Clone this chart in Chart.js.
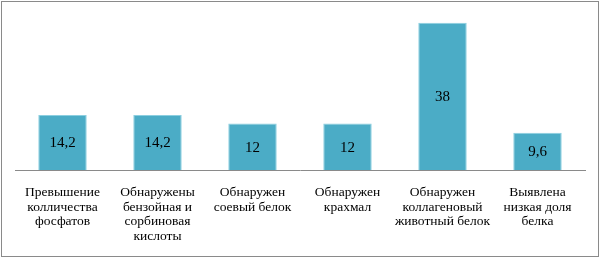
<!DOCTYPE html>
<html>
<head>
<meta charset="utf-8">
<script src="https://cdn.jsdelivr.net/npm/chart.js@4"></script>
<style>
  body { margin: 0; background: #fff; font-family: 'Liberation Serif'; }
  #wrap { width: 600px; height: 259px; position: relative; }
</style>
</head>
<body>
<div id="wrap"><canvas id="myChart"></canvas></div>
<script>
// data block
const categories = [
    ['Превышение', 'колличества', 'фосфатов'],
    ['Обнаружены', 'бензойная и', 'сорбиновая', 'кислоты'],
    ['Обнаружен', 'соевый белок'],
    ['Обнаружен', 'крахмал'],
    ['Обнаружен', 'коллагеновый', 'животный белок'],
    ['Выявлена', 'низкая доля', 'белка']
];
const values = [14.2, 14.2, 12, 12, 38, 9.6];
const valueLabels = ['14,2', '14,2', '12', '12', '38', '9,6'];

const serif = "'Liberation Serif', 'Times New Roman', serif";

// white background + outer frame
const frame = {
    id: 'frame',
    beforeDraw(chart) {
        const ctx = chart.ctx;
        ctx.save();
        ctx.fillStyle = '#fff';
        ctx.fillRect(0, 0, chart.width, chart.height);
        ctx.strokeStyle = '#8a8a8a';
        ctx.lineWidth = 1;
        ctx.strokeRect(1.5, 1.5, 597, 255);
        ctx.restore();
    }
};

// value labels in the middle of each bar
const barValues = {
    id: 'barValues',
    afterDatasetsDraw(chart) {
        const ctx = chart.ctx;
        const meta = chart.getDatasetMeta(0);
        ctx.save();
        ctx.font = '15px ' + serif;
        ctx.fillStyle = '#000';
        ctx.textAlign = 'center';
        ctx.textBaseline = 'middle';
        meta.data.forEach((bar, i) => {
            ctx.fillText(valueLabels[i], bar.x, (bar.y + bar.base) / 2 + 1);
        });
        ctx.restore();
    }
};

// config block
const config = {
    type: 'bar',
    data: {
        labels: categories,
        datasets: [{
            data: values,
            backgroundColor: '#4BACC6',
            borderColor: '#8ccfe0',
            borderWidth: 1,
            categoryPercentage: 1,
            barPercentage: 0.51
        }]
    },
    options: {
        responsive: false,
        animation: false,
        layout: { padding: { left: 15, right: 15, top: 15, bottom: 0 } },
        scales: {
            x: {
                grid: { display: false, drawTicks: false },
                border: { display: true, color: '#8a8a8a', width: 1 },
                ticks: {
                    color: '#000',
                    font: { family: serif, size: 13.5, lineHeight: 1.09 },
                    padding: 15,
                    maxRotation: 0,
                    autoSkip: false
                },
                afterFit: s => { s.height = 89; }
            },
            y: {
                display: false,
                min: 0,
                max: 40
            }
        },
        plugins: {
            legend: { display: false },
            tooltip: { enabled: false }
        }
    },
    plugins: [frame, barValues]
};

// init render block
const canvas = document.getElementById('myChart');
canvas.width = 600;
canvas.height = 259;
document.fonts.load('14px "Liberation Serif"').then(() => {
    new Chart(canvas, config);
});
</script>
</body>
</html>
